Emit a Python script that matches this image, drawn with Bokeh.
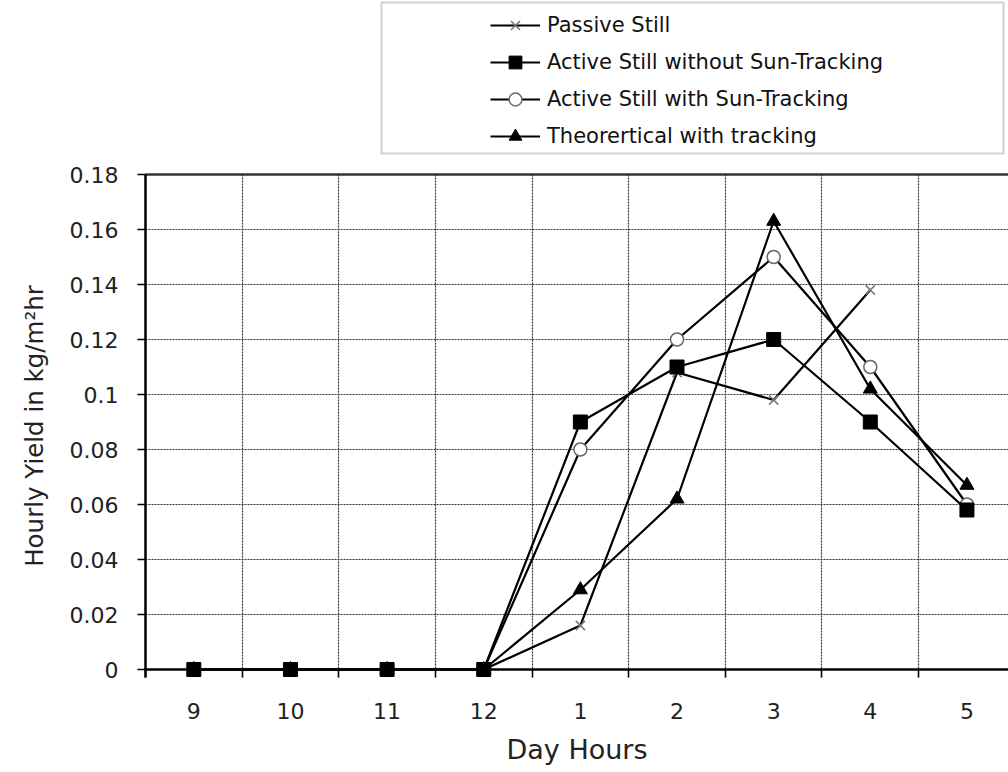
from bokeh.plotting import figure
from bokeh.layouts import column
from bokeh.models import (FixedTicker, NumeralTickFormatter, Legend, LegendItem,
                          LinearAxis, Range1d, BoxAnnotation, Span)
from bokeh.embed import file_html
from bokeh.resources import INLINE

nan = float("nan")

hours = ["9", "10", "11", "12", "1", "2", "3", "4", "5"]
passive_still = [0, 0, 0, 0, 0.016, 0.108, 0.098, 0.138, nan]
active_no_tracking = [0, 0, 0, 0, 0.090, 0.110, 0.120, 0.090, 0.058]
active_tracking = [0, 0, 0, 0, 0.080, 0.120, 0.150, 0.110, 0.060]
theoretical = [0, 0, 0, 0, 0.029, 0.062, 0.163, 0.102, 0.067]
y_ticks = [0, 0.02, 0.04, 0.06, 0.08, 0.10, 0.12, 0.14, 0.16, 0.18]
names = ["Passive Still", "Active Still without Sun-Tracking",
         "Active Still with Sun-Tracking", "Theorertical with tracking"]

x = [i + 1 for i in range(len(hours))]
boundaries = [i + 0.5 for i in range(len(hours) + 1)]

FONT = "DejaVu Sans"
LW = 2.2

# styles per series (passive, active w/o, active with, theoretical)
marker_styles = [
    dict(marker="x", size=13, line_color="#777777", line_width=1.5),
    dict(marker="square", size=14, line_color="black", fill_color="black"),
    dict(marker="circle", size=13, line_color="#666666", fill_color="white", line_width=1.5),
    dict(marker="triangle", size=14, line_color="black", fill_color="black"),
]

# ---------------- legend strip (top figure) ----------------
top = figure(width=1008, height=160, output_backend="svg", toolbar_location=None,
             x_axis_type=None, y_axis_type=None,
             x_range=Range1d(145, 1008), y_range=Range1d(160, 0),
             min_border_left=145, min_border_right=0, min_border_top=0,
             min_border_bottom=0)
top.grid.visible = False
top.outline_line_color = None

top.add_layout(BoxAnnotation(left=381, right=1003, top=2, bottom=153,
                             fill_color=None, line_color="#666666", line_width=2))

items = []
for name, ms in zip(names, marker_styles):
    lr = top.line([-50, -40], [-50, -40], line_color="black", line_width=LW)
    mr = top.scatter([-50], [-50], **ms)
    items.append(LegendItem(label=name, renderers=[lr, mr]))

legend = Legend(items=items, location=(345, 8), margin=0, padding=0, spacing=5,
                glyph_height=32, glyph_width=50, label_height=32,
                label_standoff=7, border_line_alpha=0, background_fill_alpha=0,
                label_text_font=FONT, label_text_font_size="21px",
                label_text_color="#111111")
top.add_layout(legend, "center")

# ---------------- main chart ----------------
# frame extends 8px below zero so that markers sitting on the baseline are not clipped
Y_PAD = 0.18 * 8 / 495
p = figure(width=1008, height=610, output_backend="svg", toolbar_location=None,
           x_range=Range1d(0.5, 9.43), y_range=Range1d(-Y_PAD, 0.18),
           min_border_left=145, min_border_right=0, min_border_top=14,
           min_border_bottom=93)
p.outline_line_color = None

p.xgrid.ticker = FixedTicker(ticks=boundaries)
p.ygrid.ticker = FixedTicker(ticks=y_ticks)
for g in (p.xgrid, p.ygrid):
    g.grid_line_color = "#333333"
    g.grid_line_dash = "2 1"
    g.grid_line_width = 1.2

# baseline at zero
p.add_layout(Span(location=0, dimension="width", line_color="black",
                  line_width=2.5, level="underlay"))

xa = p.xaxis[0]
xa.ticker = FixedTicker(ticks=x, minor_ticks=boundaries)
xa.major_label_overrides = {i + 1: h for i, h in enumerate(hours)}
xa.major_tick_out = 0
xa.major_tick_in = 0
xa.minor_tick_out = 0
xa.minor_tick_in = 8
xa.minor_tick_line_color = "black"
xa.minor_tick_line_width = 1.5
xa.axis_line_color = None
xa.major_label_standoff = 25
xa.major_label_text_font = FONT
xa.major_label_text_font_size = "22px"
xa.major_label_text_color = "#222222"
xa.axis_label = "Day Hours"
xa.axis_label_text_font = FONT
xa.axis_label_text_font_size = "27px"
xa.axis_label_text_font_style = "normal"
xa.axis_label_text_color = "#222222"
xa.axis_label_standoff = 12

ya = p.yaxis[0]
ya.ticker = FixedTicker(ticks=y_ticks)
ya.formatter = NumeralTickFormatter(format="0.[00]")
ya.major_tick_out = 8
ya.major_tick_in = 0
ya.minor_tick_out = 0
ya.minor_tick_in = 0
ya.major_tick_line_width = 1.5
ya.axis_line_width = 2.5
ya.axis_line_color = "black"
ya.major_label_standoff = 19
ya.major_label_text_font = FONT
ya.major_label_text_font_size = "22px"
ya.major_label_text_color = "#222222"
ya.axis_label = "Hourly Yield in kg/m²hr"
ya.axis_label_text_font = FONT
ya.axis_label_text_font_size = "24.5px"
ya.axis_label_text_font_style = "normal"
ya.axis_label_text_color = "#222222"
ya.axis_label_standoff = 18

# top frame line as an empty axis
top_axis = LinearAxis(ticker=FixedTicker(ticks=[]), axis_line_width=2.5,
                      axis_line_color="#333333", major_tick_out=0, major_tick_in=0,
                      minor_tick_out=0, minor_tick_in=0,
                      major_label_text_font_size="0px")
p.add_layout(top_axis, "above")

series = [passive_still, active_no_tracking, active_tracking, theoretical]
# draw order: passive, active with, theoretical, active without (squares on top)
for idx in [0, 2, 3, 1]:
    p.line(x, series[idx], line_color="black", line_width=LW)
    p.scatter(x, series[idx], **marker_styles[idx])

layout = column(top, p, spacing=0)
open("out.html", "w").write(file_html(layout, INLINE))
